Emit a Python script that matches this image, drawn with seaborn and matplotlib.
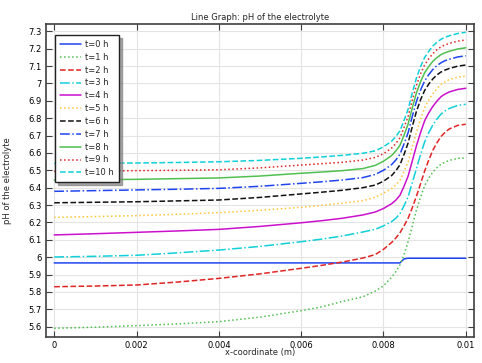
import matplotlib
matplotlib.use("Agg")
import matplotlib.pyplot as plt
import seaborn as sns
from matplotlib.ticker import FormatStrFormatter, MultipleLocator

# x positions (m) shared by all curves
X = [0, 0.001, 0.002, 0.003, 0.004, 0.005, 0.006, 0.0065, 0.007, 0.0075, 0.0078,
     0.008, 0.0082, 0.0083, 0.0084, 0.0085, 0.0086, 0.0087, 0.0088, 0.0089, 0.009,
     0.0091, 0.0092, 0.0093, 0.0094, 0.0095, 0.0096, 0.0098, 0.01]

T0 = [5.967, 5.967, 5.967, 5.967, 5.967, 5.967, 5.967, 5.967, 5.967, 5.967, 5.967,
      5.967, 5.967, 5.967, 5.967, 5.990, 5.994, 5.994, 5.994, 5.994, 5.994,
      5.994, 5.994, 5.994, 5.994, 5.994, 5.994, 5.994, 5.994]
T1 = [5.591, 5.597, 5.606, 5.616, 5.629, 5.655, 5.692, 5.714, 5.745, 5.772, 5.805,
      5.835, 5.885, 5.917, 5.955, 6.015, 6.090, 6.180, 6.270, 6.345, 6.410,
      6.455, 6.490, 6.515, 6.535, 6.547, 6.557, 6.568, 6.572]
T2 = [5.830, 5.834, 5.840, 5.857, 5.878, 5.904, 5.936, 5.953, 5.972, 5.995, 6.015,
      6.045, 6.085, 6.110, 6.140, 6.180, 6.225, 6.284, 6.350, 6.422, 6.495,
      6.559, 6.615, 6.658, 6.695, 6.719, 6.738, 6.758, 6.765]
T3 = [6.001, 6.005, 6.011, 6.025, 6.041, 6.062, 6.089, 6.104, 6.122, 6.145, 6.160,
      6.180, 6.205, 6.224, 6.250, 6.296, 6.348, 6.429, 6.509, 6.590, 6.663,
      6.716, 6.761, 6.795, 6.824, 6.842, 6.856, 6.873, 6.880]
T4 = [6.128, 6.135, 6.143, 6.151, 6.160, 6.177, 6.198, 6.210, 6.224, 6.243, 6.260,
      6.280, 6.308, 6.328, 6.356, 6.408, 6.467, 6.553, 6.640, 6.716, 6.785,
      6.830, 6.868, 6.898, 6.924, 6.939, 6.951, 6.965, 6.972]
T5 = [6.229, 6.234, 6.239, 6.247, 6.256, 6.270, 6.287, 6.298, 6.311, 6.325, 6.345,
      6.368, 6.395, 6.415, 6.442, 6.493, 6.550, 6.634, 6.718, 6.793, 6.860,
      6.904, 6.941, 6.970, 6.995, 7.010, 7.022, 7.035, 7.042]
T6 = [6.313, 6.316, 6.319, 6.324, 6.329, 6.344, 6.364, 6.374, 6.385, 6.400, 6.415,
      6.437, 6.470, 6.497, 6.531, 6.591, 6.658, 6.751, 6.838, 6.905, 6.959,
      6.996, 7.026, 7.049, 7.066, 7.077, 7.086, 7.099, 7.106]
T7 = [6.379, 6.383, 6.387, 6.391, 6.396, 6.408, 6.425, 6.434, 6.444, 6.458, 6.476,
      6.500, 6.533, 6.559, 6.592, 6.652, 6.717, 6.810, 6.895, 6.961, 7.014,
      7.050, 7.080, 7.103, 7.119, 7.131, 7.139, 7.152, 7.159]
T8 = [6.444, 6.446, 6.448, 6.452, 6.456, 6.467, 6.483, 6.490, 6.498, 6.510, 6.528,
      6.552, 6.585, 6.611, 6.643, 6.702, 6.767, 6.859, 6.944, 7.009, 7.061,
      7.097, 7.127, 7.149, 7.166, 7.177, 7.185, 7.198, 7.205]
T9 = [6.494, 6.496, 6.498, 6.500, 6.503, 6.514, 6.530, 6.538, 6.546, 6.559, 6.574,
      6.595, 6.628, 6.654, 6.687, 6.746, 6.811, 6.903, 6.988, 7.054, 7.106,
      7.142, 7.171, 7.194, 7.211, 7.222, 7.230, 7.243, 7.250]
T10 = [6.540, 6.541, 6.542, 6.545, 6.549, 6.557, 6.569, 6.577, 6.586, 6.598, 6.612,
       6.635, 6.668, 6.694, 6.727, 6.787, 6.852, 6.945, 7.030, 7.096, 7.149,
       7.185, 7.215, 7.238, 7.254, 7.266, 7.274, 7.287, 7.294]

SERIES = [T0, T1, T2, T3, T4, T5, T6, T7, T8, T9, T10]
LABELS = [f"t={i} h" for i in range(len(SERIES))]

COLORS = ["#1f45f0", "#50c050", "#e02525", "#10d0d8", "#cc10cc", "#ffc53a", "#111111"]
STYLES = ["-", ":", "--", "-."]
FS = 6

sns.set_style("whitegrid", {"grid.color": "#e4e4e4", "axes.edgecolor": "#404040"})
plt.rcParams["font.family"] = ["DejaVu Sans"]

fig = plt.figure(figsize=(4.82, 3.63), dpi=100)
ax = fig.add_axes([0.0954, 0.0725, 0.888, 0.8605])

for i, (vals, lab) in enumerate(zip(SERIES, LABELS)):
    sns.lineplot(x=X, y=vals, ax=ax, color=COLORS[i % 7],
                 linestyle=STYLES[i % 4], linewidth=1.1, label=lab)

ax.set_xlim(-0.0002, 0.0102)
ax.set_ylim(5.5425, 7.34)
ax.xaxis.set_major_locator(MultipleLocator(0.002))
ax.yaxis.set_major_locator(MultipleLocator(0.1))
ax.xaxis.set_major_formatter(FormatStrFormatter("%g"))
ax.yaxis.set_major_formatter(FormatStrFormatter("%g"))
ax.tick_params(direction="in", length=4, width=0.8, colors="#404040",
               labelcolor="black", labelsize=FS, top=True, right=True,
               bottom=True, left=True, labeltop=False, labelright=False)
ax.tick_params(axis="x", pad=3)
ax.tick_params(axis="y", pad=3)
ax.grid(True, color="#e4e4e4", linewidth=0.8)
for s in ax.spines.values():
    s.set_linewidth(1.2)
    s.set_color("#404040")

ax.set_title("Line Graph: pH of the electrolyte", fontsize=FS, pad=3)
ax.set_xlabel("x-coordinate (m)", fontsize=FS, labelpad=-1)
ax.set_ylabel("pH of the electrolyte", fontsize=FS, labelpad=12)

leg = ax.legend(loc="upper left", bbox_to_anchor=(0.0217, 0.966), fontsize=FS,
                frameon=True, fancybox=False,
                shadow={"color": "#808080", "alpha": 0.7},
                handlelength=2.5, labelspacing=0.46, borderpad=0.6,
                handletextpad=0.5, borderaxespad=0)
leg.get_frame().set_edgecolor("#222222")
leg.get_frame().set_linewidth(1.0)
leg.get_frame().set_alpha(1.0)

fig.savefig("out.png", dpi=100)
